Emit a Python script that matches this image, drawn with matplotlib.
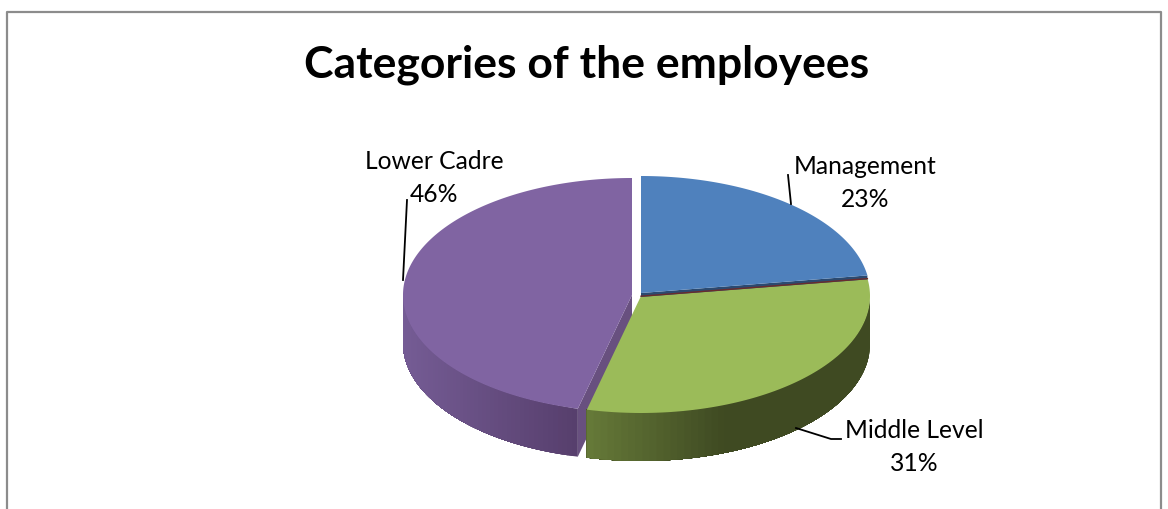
import numpy as np
import matplotlib
matplotlib.use('Agg')
import matplotlib.pyplot as plt
from matplotlib.colors import to_rgb

# data
categories = ['Management', 'Middle Level', 'Lower Cadre']
shares = [22.6, 31.2, 46.2]
title = 'Categories of the employees'

# slice colours: top face, wall at left of the picture, wall at right
top_colors = ['#4f81bd', '#9bbb59', '#8064a2']
wall_left = ['#2f4f78', '#677b39', '#755c95']
wall_right = ['#2f4f78', '#3f4a22', '#573f6d']

# slice centres (pixels), exploded a little
centers = [(641, 293), (641, 296), (632, 295)]
rx = 229
ry = 117
depth = 48

plt.rcParams['font.family'] = ['Lato', 'DejaVu Sans']

fig = plt.figure(figsize=(11.68, 5.09), dpi=100)
ax = fig.add_axes([0, 0, 1, 1])
ax.set_xlim(0, 1168)
ax.set_ylim(509, 0)
ax.axis('off')

# chart frame, bottom runs off the picture
ax.plot([7, 7, 1161, 1161], [509, 12, 12, 509], color='#8c8c8c', lw=1.6)


def rim(cx, cy, a):
    # a is degrees clockwise from the top
    r = np.radians(a)
    return cx + rx * np.sin(r), cy - ry * np.cos(r)


def mix(c1, c2, t):
    return tuple((1 - t) * np.array(to_rgb(c1)) + t * np.array(to_rgb(c2)))


edges = np.cumsum([0] + shares) * 3.6

# purple first, green and blue go over it
for i in [2, 1, 0]:
    cx, cy = centers[i]
    a0, a1 = edges[i], edges[i + 1]

    if i == 2:
        # cut wall of the purple slice, green covers most of it
        x0, y0 = rim(cx, cy, a0)
        ax.fill([cx, x0, x0, cx], [cy, y0, y0 + depth, cy + depth],
                color='#68507f', lw=0)
    if i == 0:
        # thin dark cut wall under the blue slice
        x1, y1 = rim(cx, cy, a1)
        ax.fill([cx, x1, x1, cx], [cy, y1, y1 + 4, cy + 4], color='#2b4a70', lw=0)
        ax.plot([cx, x1], [cy + 3.2, y1 + 3.2], color='#6b2c2c', lw=1)

    # outer wall, only the part facing us, strips overlap so no seams show
    lo, hi = max(a0, 90), min(a1, 270)
    if hi > lo:
        steps = np.linspace(lo, hi, 60)
        xs, ys = rim(cx, cy, steps)
        for k in range(len(steps) - 1):
            if i == 1:
                # green goes dark quickly then stays flat
                t = 1 - max(0, min(1, (xs[k] - xs[-1]) / 140))
                c = mix(wall_right[i], wall_left[i], t)
            else:
                t = (xs[k] - xs.min()) / (xs.max() - xs.min())
                c = mix(wall_left[i], wall_right[i], t)
            ax.fill(np.r_[xs[k:], xs[k:][::-1]],
                    np.r_[ys[k:], ys[k:][::-1] + depth],
                    color=c, lw=0)

    # top face
    steps = np.linspace(a0, a1, 200)
    xs, ys = rim(cx, cy, steps)
    ax.fill(np.r_[cx, xs], np.r_[cy, ys], color=top_colors[i], lw=0)

# title
ax.text(587, 65, title, fontsize=32, fontweight='bold', ha='center', va='center', color='black')

# labels with the percentages
label_xy = [(865, 183), (914, 447), (434, 178)]
for name, share, (lx, ly) in zip(categories, shares, label_xy):
    ax.text(lx, ly, f'{name}\n{share:.0f}%', fontsize=17.7, ha='center', va='center',
            linespacing=1.5, color='black')

# leader lines
ax.plot([788, 791], [175, 204], color='black', lw=1.3)
ax.plot([796, 831, 841], [428, 439, 439], color='black', lw=1.3)
ax.plot([407, 403], [200, 280], color='black', lw=1.3)

fig.savefig('out.png', dpi=100, facecolor='white')
